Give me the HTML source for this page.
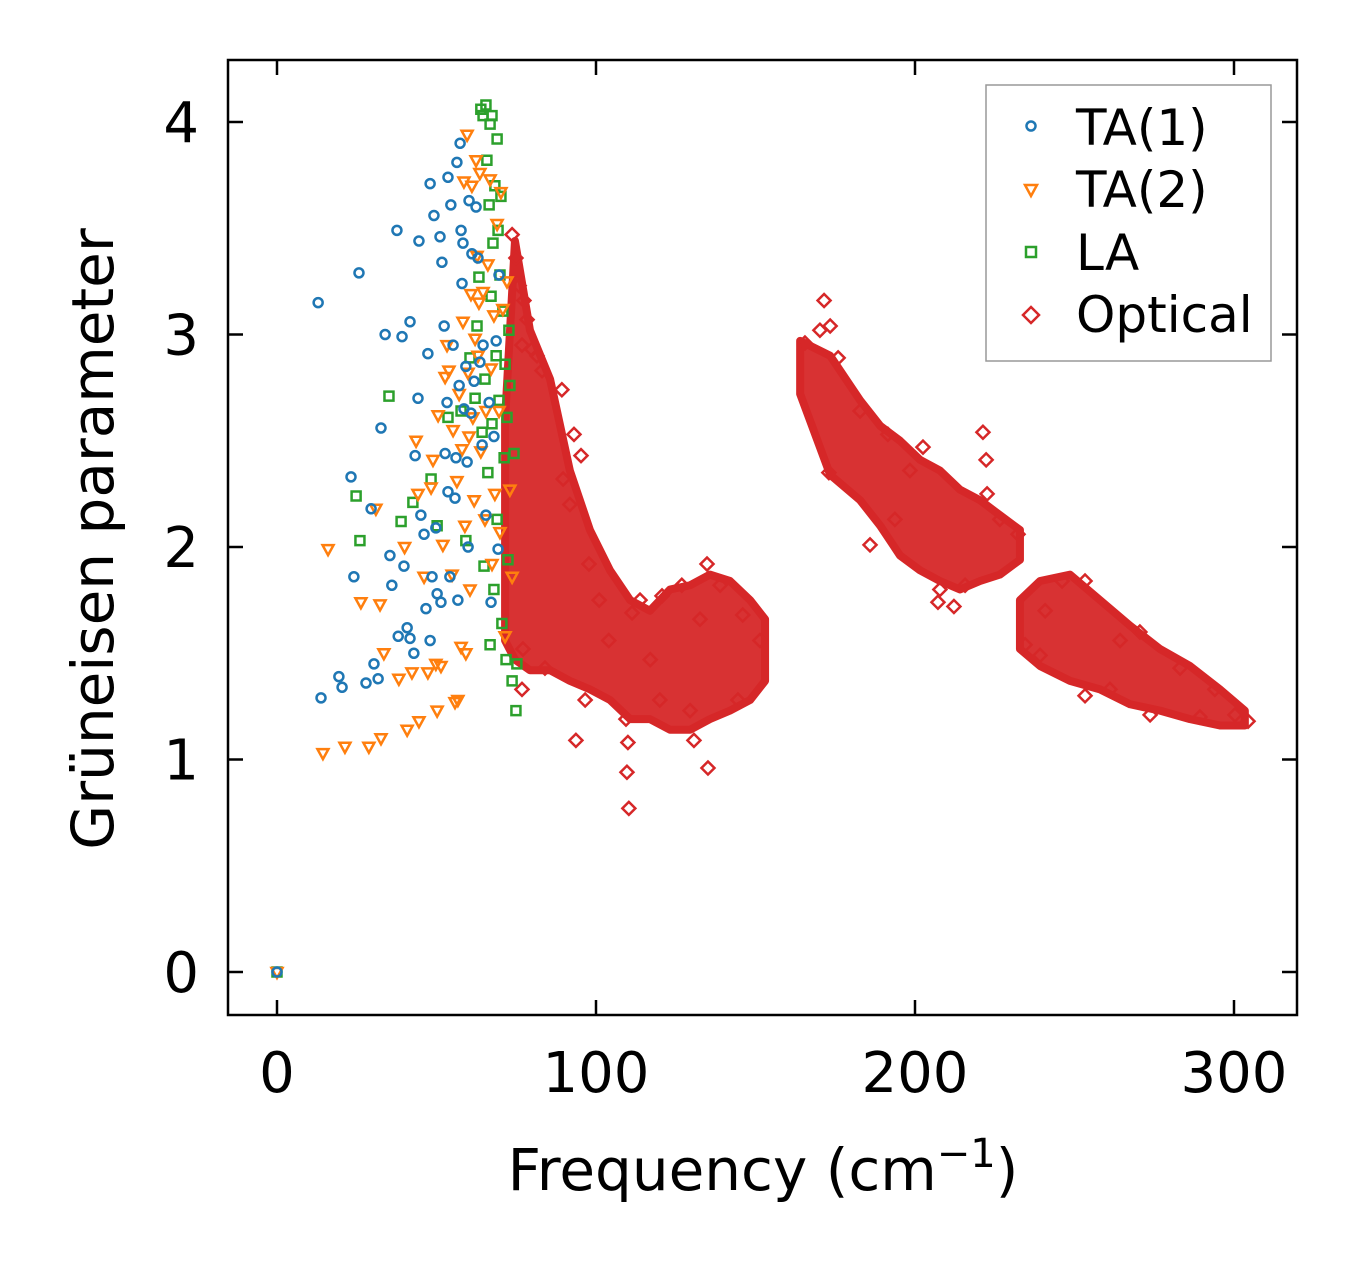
<!DOCTYPE html>
<html><head><meta charset="utf-8"><style>
html,body{margin:0;padding:0;background:#fff;}
svg{display:block;font-family:"DejaVu Sans","Liberation Sans",sans-serif;}
</style></head><body>
<svg id="chart" width="1357" height="1264" viewBox="0 0 1357 1264" xmlns="http://www.w3.org/2000/svg">
<rect x="0" y="0" width="1357" height="1264" fill="#fff"/>
<g id="marks"></g>
<rect x="228" y="60" width="1069" height="955" fill="none" stroke="#000" stroke-width="2.5"/>
<g id="axes"></g>
<text x="763" y="1190" font-size="58" text-anchor="middle">Frequency (cm<tspan dy="-23" font-size="40">−1</tspan><tspan dy="23">)</tspan></text>
<text transform="translate(113,539) rotate(-90)" font-size="58" text-anchor="middle">Grüneisen parameter</text>
<g>
<rect x="986" y="85" width="285" height="276" fill="#fff" stroke="#999" stroke-width="1.5"/>
<circle cx="1031" cy="126" r="4.5" fill="none" stroke="#1f77b4" stroke-width="2.5"/>
<text x="1076" y="145" font-size="50">TA(1)</text>
<path d="M1025,185 L1037,185 L1031,196 Z" fill="none" stroke="#ff7f0e" stroke-width="2.5"/>
<text x="1076" y="207" font-size="50">TA(2)</text>
<rect x="1026" y="247" width="10" height="10" fill="none" stroke="#2ca02c" stroke-width="2.5"/>
<text x="1076" y="270" font-size="50">LA</text>
<path d="M1031,307 L1039,315 L1031,323 L1023,315 Z" fill="none" stroke="#d62728" stroke-width="2.5"/>
<text x="1076" y="332" font-size="50">Optical</text>
</g>
</svg>
<script>
const xTicks=[0,100,200,300];
const yTicks=[0,1,2,3,4];
const ta1Freq=[0,13.8,12.9,19.4,20.4,23.2,24.1,25.7,27.9,29.5,30.4,31.7,32.6,33.9,35.4,36,37.6,38,39.2,39.8,40.8,41.7,41.7,42.9,43.3,44.2,44.5,45.1,46.1,46.7,47.3,48,48,48.6,49.2,49.8,50.2,51.1,51.4,51.7,52.4,52.7,53.3,53.6,53.6,54.2,54.5,55.2,55.8,56.1,56.4,56.7,57.1,57.4,57.7,58,58.3,58.6,59.2,59.6,59.9,60.2,60.8,61.1,61.8,62.4,63,63.6,64.3,64.6,65.5,66.5,67.1,68,68.7,69.3,69.6];
const ta1Gamma=[0,1.29,3.15,1.39,1.34,2.33,1.86,3.29,1.36,2.18,1.45,1.38,2.56,3.0,1.96,1.82,3.49,1.58,2.99,1.91,1.62,3.06,1.57,1.5,2.43,2.7,3.44,2.15,2.06,1.71,2.91,3.71,1.56,1.86,3.56,2.09,1.78,3.46,1.74,3.34,3.04,2.44,2.68,3.74,2.26,1.86,3.61,2.95,2.23,2.42,3.81,1.75,2.76,3.9,3.49,3.24,3.43,2.65,2.85,2.4,2.0,3.63,2.63,3.38,2.78,3.6,3.36,2.87,2.48,2.95,2.15,2.68,1.74,2.52,2.97,1.99,3.28];
const ta2Freq=[0,14.4,16,21.3,26.3,28.8,31,32.3,32.6,33.5,38.2,40,40.8,42.3,43.6,44.2,44.5,46.1,47.3,48.3,48.9,49.8,50.2,50.5,51.4,52,52.7,53.3,53.9,54.9,55.2,55.8,56.4,56.7,57.1,57.7,58,58.3,58.6,58.9,59.2,59.6,59.9,60.2,60.5,60.8,61.1,61.4,61.8,62.1,62.4,62.7,63,63.3,63.6,63.9,64.6,65.2,65.5,66.1,66.8,67.1,67.4,68,68.3,69,69.6,69.9,70.2,70.8,71.5,72.1,73,73.7];
const ta2Gamma=[0,1.03,1.99,1.06,1.74,1.06,2.18,1.73,1.1,1.5,1.38,2.0,1.14,1.41,2.5,2.25,1.18,1.86,1.41,2.28,2.41,1.45,1.23,2.62,1.44,2.01,2.8,2.95,2.83,1.87,2.55,1.27,2.31,1.28,2.72,1.53,2.46,3.06,3.72,2.1,1.5,3.94,2.82,2.52,1.8,3.19,3.7,2.61,2.22,2.98,3.82,3.37,2.9,3.15,3.76,2.45,3.2,2.13,2.64,3.33,3.73,2.84,1.92,3.09,2.25,3.52,2.64,2.07,3.67,3.12,1.58,3.25,2.27,1.86];
const laFreq=[0,24.8,26,35.1,38.9,42.6,48.3,50.2,53.6,57.7,59.2,60.5,62.1,62.7,63.3,63.9,64.3,64.6,64.9,65.2,65.5,65.8,66.1,66.5,66.8,66.8,67.1,67.4,67.4,67.7,68,68.3,68.7,69,69,69.3,69.6,69.9,70.2,70.5,70.8,71.2,71.5,71.8,72.1,72.4,72.7,73,73.7,74.3,74.9,75.2];
const laGamma=[0,2.24,2.03,2.71,2.12,2.21,2.32,2.1,2.61,2.64,2.03,2.89,2.7,3.04,3.27,4.06,2.54,4.03,1.91,2.79,4.08,3.82,2.35,3.61,3.99,1.54,3.18,4.03,2.58,3.43,1.8,3.7,2.9,3.92,2.13,3.49,2.69,3.28,3.65,1.64,3.11,2.42,2.86,1.47,2.61,1.94,3.02,2.76,1.37,2.44,1.23,1.45];
const optFreq=[73.7,74.9,75.9,77.4,78.4,76.8,79.9,81.5,83.1,89.3,93.1,95.3,89.7,93.7,91.8,97.8,84,76.8,77.1,101,104,96.6,109.4,110,109.7,110.3,111.3,117,120.7,120,126.9,129.5,130.7,135.1,134.8,138.9,144.5,146,151.4,132.6,113.8,171.5,170.2,173.4,165.5,175.9,173,182.8,191.5,198.4,202.5,207.2,212.2,221.3,222.3,222.6,226.6,232.3,185.9,193.7,207.8,215.7,234.5,239.2,246.1,253.3,253.3,261.1,270.5,273.7,283.1,289.3,294,304.4,300.3,240.8,264.3];
const optGamma=[3.47,3.36,3.23,3.16,3.07,2.95,2.93,2.9,2.83,2.74,2.53,2.43,2.32,1.09,2.2,1.92,1.43,1.33,1.52,1.75,1.56,1.28,1.19,1.08,0.94,0.77,1.69,1.47,1.77,1.28,1.82,1.23,1.09,0.96,1.92,1.82,1.28,1.68,1.56,1.66,1.75,3.16,3.02,3.04,2.96,2.89,2.35,2.64,2.53,2.36,2.47,1.74,1.72,2.54,2.41,2.25,2.13,2.06,2.01,2.13,1.8,1.82,1.54,1.49,1.84,1.84,1.3,1.33,1.6,1.21,1.43,1.2,1.33,1.18,1.21,1.7,1.56];
// dense-band envelopes of optical branch clusters
const bandAFreq=[71.5,74.6,79.3,85.6,91.8,98.1,104.4,110.7,116.9,123.2,129.5,135.7,142,148.3,153];
const bandAHigh=[2.6,3.44,3.02,2.79,2.36,2.08,1.89,1.75,1.7,1.8,1.82,1.87,1.84,1.75,1.66];
const bandALow=[1.56,1.47,1.42,1.42,1.37,1.33,1.28,1.19,1.19,1.14,1.14,1.19,1.23,1.28,1.37];
const bandBFreq=[164,173.4,182.8,189.1,195.3,201.6,207.8,214.1,220.4,226.6,232.9];
const bandBHigh=[2.97,2.9,2.69,2.57,2.5,2.41,2.36,2.27,2.22,2.15,2.08];
const bandBLow=[2.72,2.34,2.22,2.1,1.96,1.89,1.84,1.8,1.84,1.87,1.94];
const bandCFreq=[232.9,239.2,248.6,258,267.4,276.8,286.2,295.6,303.4];
const bandCHigh=[1.75,1.84,1.87,1.75,1.63,1.52,1.44,1.33,1.23];
const bandCLow=[1.52,1.44,1.37,1.33,1.26,1.23,1.19,1.16,1.16];

const NS='http://www.w3.org/2000/svg';
const xs=v=>277+v*3.19;
const ys=v=>972-v*212.5;
const marks=document.getElementById('marks');
const axes=document.getElementById('axes');
function mk(tag,parent){const e=document.createElementNS(NS,tag);parent.appendChild(e);return e;}

function band(fr,hi,lo,name){
  let pts=fr.map((f,i)=>xs(f)+','+ys(hi[i]));
  for(let i=fr.length-1;i>=0;i--)pts.push(xs(fr[i])+','+ys(lo[i]));
  const p=mk('polygon',marks);
  p.setAttribute('points',pts.join(' '));
  p.setAttribute('fill','#d62728');p.setAttribute('fill-opacity','0.95');
  p.setAttribute('stroke','#d62728');p.setAttribute('stroke-width','8');p.setAttribute('stroke-linejoin','round');
  
  
}
band(bandAFreq,bandAHigh,bandALow,'optical-cluster-low');
band(bandBFreq,bandBHigh,bandBLow,'optical-cluster-mid');
band(bandCFreq,bandCHigh,bandCLow,'optical-cluster-high');

optFreq.forEach((f,i)=>{const x=xs(f),y=ys(optGamma[i]);const p=mk('path',marks);
  p.setAttribute('d',`M${x},${y-6.5} L${x+6.5},${y} L${x},${y+6.5} L${x-6.5},${y} Z`);
  p.setAttribute('fill','none');p.setAttribute('stroke','#d62728');p.setAttribute('stroke-width','2.5');
  
  });
laFreq.forEach((f,i)=>{const x=xs(f),y=ys(laGamma[i]);const r=mk('rect',marks);
  r.setAttribute('x',x-4.5);r.setAttribute('y',y-4.5);r.setAttribute('width',9);r.setAttribute('height',9);
  r.setAttribute('fill','none');r.setAttribute('stroke','#2ca02c');r.setAttribute('stroke-width','2.5');
  
  });
ta2Freq.forEach((f,i)=>{const x=xs(f),y=ys(ta2Gamma[i]);const p=mk('path',marks);
  p.setAttribute('d',`M${x-5.5},${y-4} L${x+5.5},${y-4} L${x},${y+6} Z`);
  p.setAttribute('fill','none');p.setAttribute('stroke','#ff7f0e');p.setAttribute('stroke-width','2.5');
  
  });
ta1Freq.forEach((f,i)=>{const c=mk('circle',marks);
  c.setAttribute('cx',xs(f));c.setAttribute('cy',ys(ta1Gamma[i]));c.setAttribute('r',4.5);
  c.setAttribute('fill','none');c.setAttribute('stroke','#1f77b4');c.setAttribute('stroke-width','2.5');
  
  });

xTicks.forEach(t=>{const x=xs(t);
  [[1015,1000],[60,75]].forEach(([a,b])=>{const l=mk('line',axes);l.setAttribute('x1',x);l.setAttribute('x2',x);l.setAttribute('y1',a);l.setAttribute('y2',b);l.setAttribute('stroke','#000');l.setAttribute('stroke-width','2.5');
    
    });
  const tx=mk('text',axes);tx.setAttribute('x',x);tx.setAttribute('y',1092);tx.setAttribute('font-size','56');tx.setAttribute('text-anchor','middle');tx.textContent=t;
  
  });
yTicks.forEach(t=>{const y=ys(t);
  [[228,243],[1297,1282]].forEach(([a,b])=>{const l=mk('line',axes);l.setAttribute('x1',a);l.setAttribute('x2',b);l.setAttribute('y1',y);l.setAttribute('y2',y);l.setAttribute('stroke','#000');l.setAttribute('stroke-width','2.5');
    
    });
  const tx=mk('text',axes);tx.setAttribute('x',199);tx.setAttribute('y',y+20);tx.setAttribute('font-size','56');tx.setAttribute('text-anchor','end');tx.textContent=t;
  
  });
</script>
</body></html>
